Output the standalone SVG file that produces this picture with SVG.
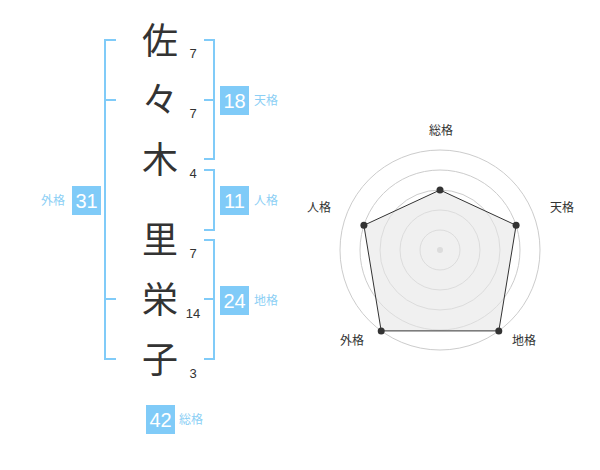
<svg xmlns="http://www.w3.org/2000/svg" width="600" height="470" viewBox="0 0 600 470">
<style>
.kanji{font-family:"Noto Sans CJK JP","Noto Sans CJK SC",sans-serif;font-size:36px;fill:#333;text-anchor:middle}
.num{font-family:"Liberation Sans",Arial,sans-serif;font-size:13px;fill:#333;text-anchor:middle}
.box{fill:#80cbf8}
.bnum{font-family:"Liberation Sans",Arial,sans-serif;font-size:20px;fill:#fff;text-anchor:middle}
.lbl{font-family:"Noto Sans CJK JP","Noto Sans CJK SC",sans-serif;font-size:12px;fill:#8ccff5}
.br{fill:none;stroke:#80cbf8;stroke-width:2}
.ring{fill:none;stroke:#cccccc;stroke-width:1}
.rl{font-family:"Noto Sans CJK JP","Noto Sans CJK SC",sans-serif;font-size:12px;fill:#333;text-anchor:middle}
.pt{fill:#333}
</style>
<rect width="600" height="470" fill="#fff"/>
<g id="connectors">
<path class="br" d="M116,40 H105 V359 H116 M105,100 H116 M105,299 H116"/>
<path class="br" d="M204,40 H214 V159 H204 M204,100 H214"/>
<path class="br" d="M204,170 H214 V230 H204"/>
<path class="br" d="M204,240 H214 V359 H204 M204,299 H214"/>
</g>
<g id="char-1"><text class="kanji" x="160" y="54">佐</text><text class="num" x="193" y="58">7</text></g>
<g id="char-2"><text class="kanji" x="160" y="113">々</text><text class="num" x="193" y="118">7</text></g>
<g id="char-3"><text class="kanji" x="160" y="173">木</text><text class="num" x="193" y="178">4</text></g>
<g id="char-4"><text class="kanji" x="160" y="253">里</text><text class="num" x="193" y="258">7</text></g>
<g id="char-5"><text class="kanji" x="160" y="313">栄</text><text class="num" x="193" y="318">14</text></g>
<g id="char-6"><text class="kanji" x="160" y="373">子</text><text class="num" x="193" y="378">3</text></g>
<g id="tenkaku"><rect class="box" x="220" y="86" width="29" height="29"/><text class="bnum" x="234.5" y="108">18</text><text class="lbl" x="254" y="105">天格</text></g>
<g id="jinkaku"><rect class="box" x="220" y="186" width="29" height="29"/><text class="bnum" x="234.5" y="208">11</text><text class="lbl" x="254" y="205">人格</text></g>
<g id="chikaku"><rect class="box" x="220" y="286" width="29" height="29"/><text class="bnum" x="234.5" y="308">24</text><text class="lbl" x="254" y="305">地格</text></g>
<g id="gaikaku"><rect class="box" x="72" y="186" width="29" height="29"/><text class="bnum" x="86.5" y="208">31</text><text class="lbl" x="41" y="205">外格</text></g>
<g id="soukaku"><rect class="box" x="146" y="405" width="29" height="29"/><text class="bnum" x="160.5" y="427">42</text><text class="lbl" x="179" y="424">総格</text></g>
<g id="radar">
<circle class="ring" cx="440" cy="250" r="20"/>
<circle class="ring" cx="440" cy="250" r="40"/>
<circle class="ring" cx="440" cy="250" r="60"/>
<circle class="ring" cx="440" cy="250" r="80"/>
<circle class="ring" cx="440" cy="250" r="100"/>
<circle cx="440" cy="250" r="3" fill="#cccccc"/>
<polygon points="440,190 516.1,225.3 498.8,330.9 381.2,330.9 363.9,225.3" fill="#e6e6e6" fill-opacity="0.6" stroke="#333" stroke-width="1"/>
<circle class="pt" cx="440" cy="190" r="3.5"/>
<circle class="pt" cx="516.1" cy="225.3" r="3.5"/>
<circle class="pt" cx="498.8" cy="330.9" r="3.5"/>
<circle class="pt" cx="381.2" cy="330.9" r="3.5"/>
<circle class="pt" cx="363.9" cy="225.3" r="3.5"/>
<text class="rl" x="441" y="135">総格</text>
<text class="rl" x="562" y="212">天格</text>
<text class="rl" x="524" y="345">地格</text>
<text class="rl" x="352" y="345">外格</text>
<text class="rl" x="319" y="212">人格</text>
</g>
</svg>
